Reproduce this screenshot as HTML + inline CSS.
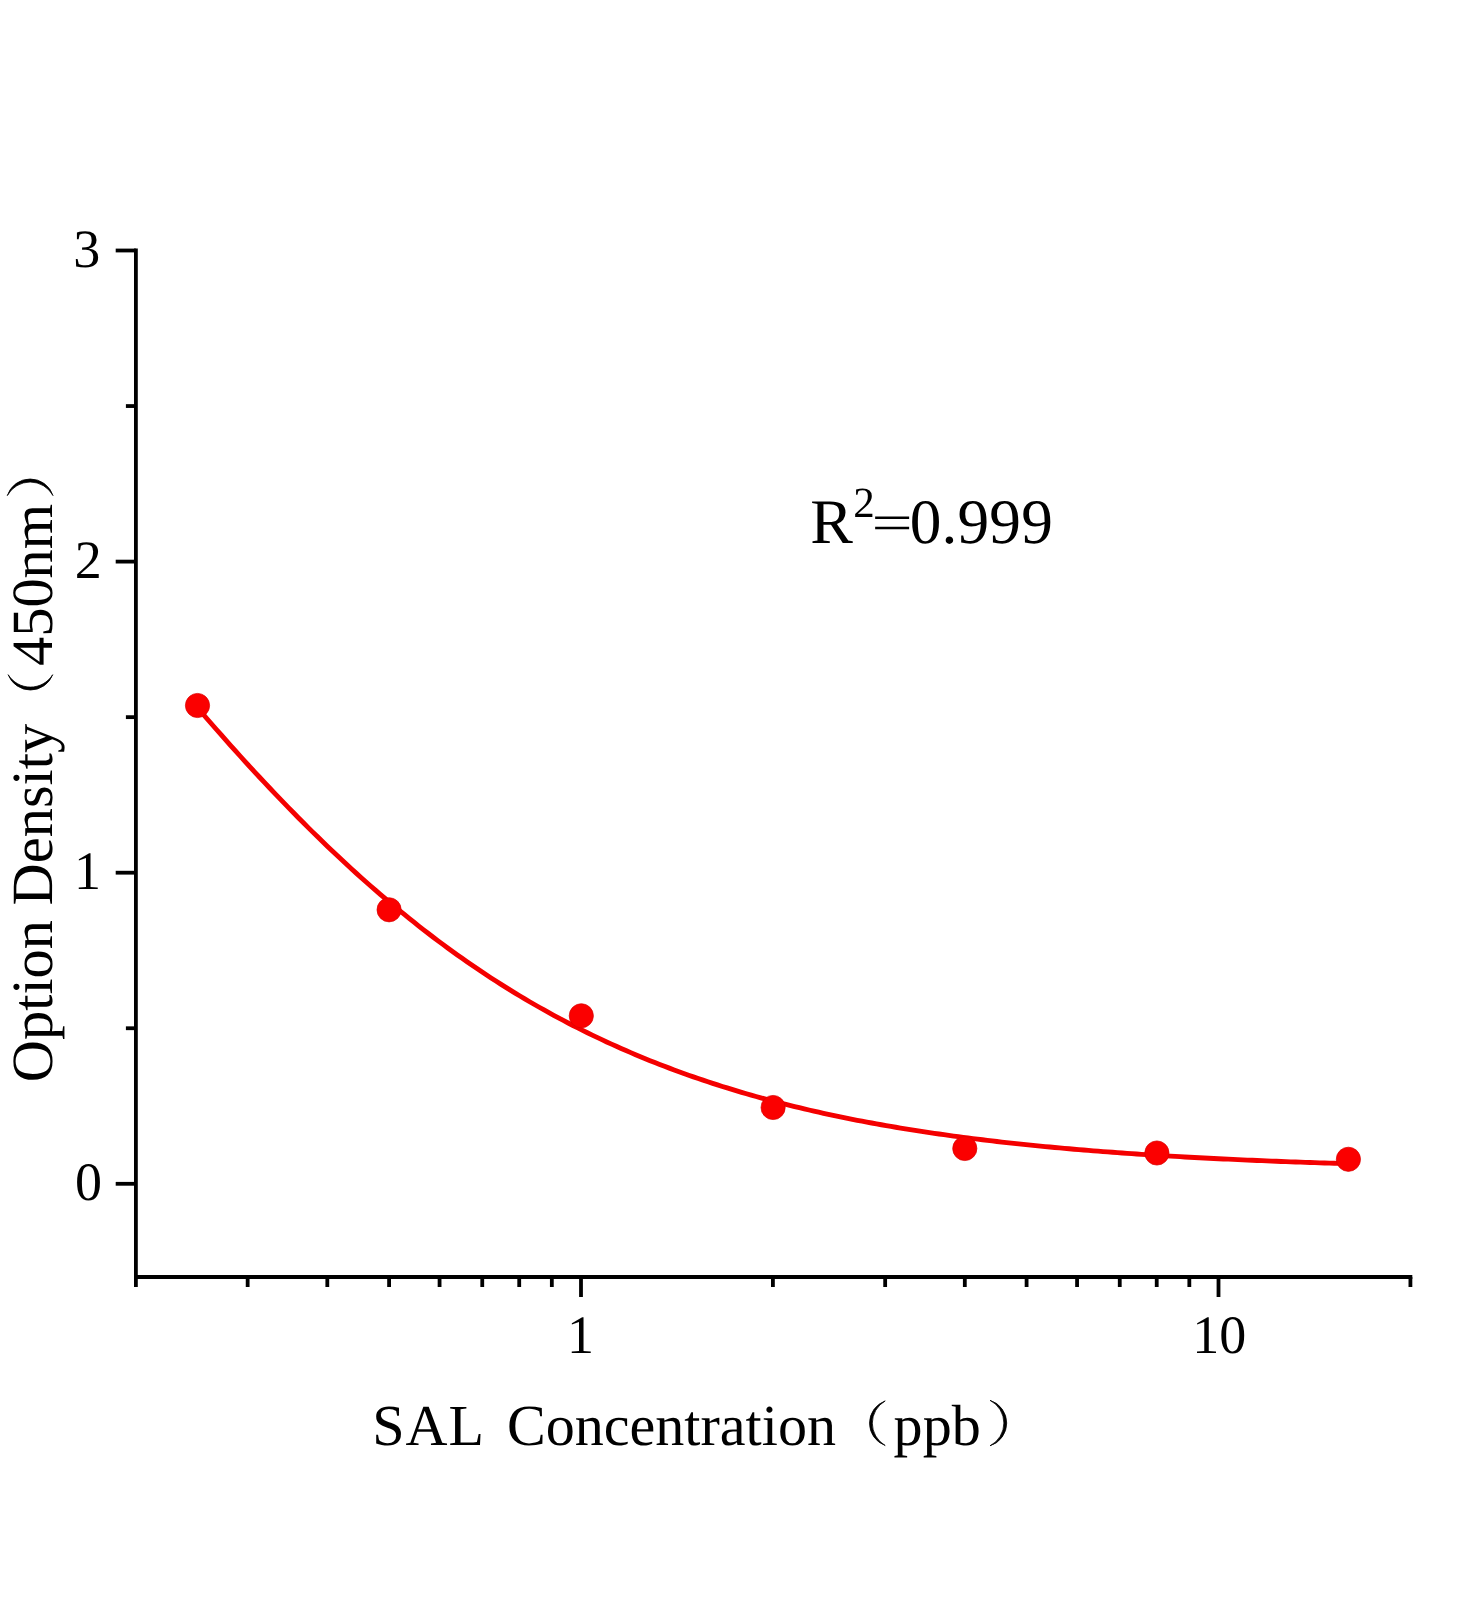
<!DOCTYPE html>
<html><head><meta charset="utf-8"><title>SAL standard curve</title>
<style>
html,body{margin:0;padding:0;background:#fff;}
body{width:1472px;height:1600px;overflow:hidden;}
svg{display:block;will-change:transform;}
svg text{font-family:"Liberation Serif",serif;fill:#000;font-kerning:none;text-rendering:geometricPrecision;}
</style></head><body>
<svg width="1472" height="1600" viewBox="0 0 1472 1600" role="img" aria-label="Standard curve: Option Density (450nm) versus SAL Concentration (ppb), R squared = 0.999">
<rect width="1472" height="1600" fill="#ffffff"/>
<path d="M135.9,248.60 V1287.00" stroke="#000" stroke-width="3.8" fill="none"/>
<path d="M134.00,1277.0 H1412.31" stroke="#000" stroke-width="3.8" fill="none"/>
<path d="M115.70,1183.80 H135.9" stroke="#000" stroke-width="3.8"/>
<path d="M115.70,872.70 H135.9" stroke="#000" stroke-width="3.8"/>
<path d="M115.70,561.60 H135.9" stroke="#000" stroke-width="3.8"/>
<path d="M115.70,250.50 H135.9" stroke="#000" stroke-width="3.8"/>
<path d="M125.90,1028.25 H135.9" stroke="#000" stroke-width="3.8"/>
<path d="M125.90,717.15 H135.9" stroke="#000" stroke-width="3.8"/>
<path d="M125.90,406.05 H135.9" stroke="#000" stroke-width="3.8"/>
<path d="M581.00,1277.0 V1297.00" stroke="#000" stroke-width="3.8"/>
<path d="M1218.50,1277.0 V1297.00" stroke="#000" stroke-width="3.8"/>
<path d="M247.66,1277.0 V1287.00" stroke="#000" stroke-width="3.8"/>
<path d="M327.31,1277.0 V1287.00" stroke="#000" stroke-width="3.8"/>
<path d="M389.09,1277.0 V1287.00" stroke="#000" stroke-width="3.8"/>
<path d="M439.57,1277.0 V1287.00" stroke="#000" stroke-width="3.8"/>
<path d="M482.25,1277.0 V1287.00" stroke="#000" stroke-width="3.8"/>
<path d="M519.22,1277.0 V1287.00" stroke="#000" stroke-width="3.8"/>
<path d="M551.83,1277.0 V1287.00" stroke="#000" stroke-width="3.8"/>
<path d="M772.91,1277.0 V1287.00" stroke="#000" stroke-width="3.8"/>
<path d="M885.16,1277.0 V1287.00" stroke="#000" stroke-width="3.8"/>
<path d="M964.81,1277.0 V1287.00" stroke="#000" stroke-width="3.8"/>
<path d="M1026.59,1277.0 V1287.00" stroke="#000" stroke-width="3.8"/>
<path d="M1077.07,1277.0 V1287.00" stroke="#000" stroke-width="3.8"/>
<path d="M1119.75,1277.0 V1287.00" stroke="#000" stroke-width="3.8"/>
<path d="M1156.72,1277.0 V1287.00" stroke="#000" stroke-width="3.8"/>
<path d="M1189.33,1277.0 V1287.00" stroke="#000" stroke-width="3.8"/>
<path d="M1410.41,1277.0 V1287.00" stroke="#000" stroke-width="3.8"/>
<path d="M197.19,707.33 L202.00,712.91 L206.82,718.47 L211.64,723.99 L216.46,729.49 L221.28,734.96 L226.09,740.39 L230.91,745.79 L235.73,751.16 L240.55,756.50 L245.36,761.80 L250.18,767.07 L255.00,772.30 L259.82,777.50 L264.64,782.65 L269.45,787.78 L274.27,792.86 L279.09,797.91 L283.91,802.91 L288.72,807.88 L293.54,812.81 L298.36,817.70 L303.18,822.54 L307.99,827.35 L312.81,832.11 L317.63,836.84 L322.45,841.52 L327.27,846.16 L332.08,850.76 L336.90,855.31 L341.72,859.82 L346.54,864.29 L351.35,868.71 L356.17,873.10 L360.99,877.43 L365.81,881.73 L370.63,885.98 L375.44,890.18 L380.26,894.34 L385.08,898.46 L389.90,902.53 L394.71,906.56 L399.53,910.55 L404.35,914.49 L409.17,918.38 L413.99,922.23 L418.80,926.04 L423.62,929.80 L428.44,933.52 L433.26,937.20 L438.07,940.83 L442.89,944.41 L447.71,947.96 L452.53,951.46 L457.34,954.92 L462.16,958.33 L466.98,961.70 L471.80,965.03 L476.62,968.31 L481.43,971.56 L486.25,974.76 L491.07,977.92 L495.89,981.04 L500.70,984.11 L505.52,987.15 L510.34,990.14 L515.16,993.10 L519.98,996.01 L524.79,998.88 L529.61,1001.72 L534.43,1004.51 L539.25,1007.27 L544.06,1009.98 L548.88,1012.66 L553.70,1015.30 L558.52,1017.90 L563.33,1020.47 L568.15,1023.00 L572.97,1025.49 L577.79,1027.94 L582.61,1030.36 L587.42,1032.74 L592.24,1035.09 L597.06,1037.40 L601.88,1039.68 L606.69,1041.93 L611.51,1044.14 L616.33,1046.31 L621.15,1048.45 L625.97,1050.56 L630.78,1052.64 L635.60,1054.69 L640.42,1056.70 L645.24,1058.68 L650.05,1060.63 L654.87,1062.56 L659.69,1064.45 L664.51,1066.31 L669.33,1068.14 L674.14,1069.94 L678.96,1071.71 L683.78,1073.46 L688.60,1075.17 L693.41,1076.86 L698.23,1078.53 L703.05,1080.16 L707.87,1081.77 L712.68,1083.35 L717.50,1084.91 L722.32,1086.44 L727.14,1087.94 L731.96,1089.42 L736.77,1090.88 L741.59,1092.31 L746.41,1093.72 L751.23,1095.10 L756.04,1096.46 L760.86,1097.80 L765.68,1099.12 L770.50,1100.41 L775.32,1101.68 L780.13,1102.93 L784.95,1104.16 L789.77,1105.37 L794.59,1106.56 L799.40,1107.73 L804.22,1108.87 L809.04,1110.00 L813.86,1111.11 L818.68,1112.20 L823.49,1113.27 L828.31,1114.32 L833.13,1115.35 L837.95,1116.37 L842.76,1117.37 L847.58,1118.35 L852.40,1119.31 L857.22,1120.26 L862.03,1121.19 L866.85,1122.10 L871.67,1123.00 L876.49,1123.88 L881.31,1124.75 L886.12,1125.60 L890.94,1126.44 L895.76,1127.26 L900.58,1128.06 L905.39,1128.86 L910.21,1129.64 L915.03,1130.40 L919.85,1131.15 L924.67,1131.89 L929.48,1132.61 L934.30,1133.32 L939.12,1134.02 L943.94,1134.71 L948.75,1135.38 L953.57,1136.05 L958.39,1136.70 L963.21,1137.33 L968.03,1137.96 L972.84,1138.58 L977.66,1139.18 L982.48,1139.77 L987.30,1140.36 L992.11,1140.93 L996.93,1141.49 L1001.75,1142.04 L1006.57,1142.58 L1011.38,1143.12 L1016.20,1143.64 L1021.02,1144.15 L1025.84,1144.65 L1030.66,1145.15 L1035.47,1145.63 L1040.29,1146.11 L1045.11,1146.58 L1049.93,1147.03 L1054.74,1147.49 L1059.56,1147.93 L1064.38,1148.36 L1069.20,1148.79 L1074.02,1149.21 L1078.83,1149.62 L1083.65,1150.02 L1088.47,1150.42 L1093.29,1150.80 L1098.10,1151.19 L1102.92,1151.56 L1107.74,1151.93 L1112.56,1152.29 L1117.37,1152.64 L1122.19,1152.99 L1127.01,1153.33 L1131.83,1153.66 L1136.65,1153.99 L1141.46,1154.32 L1146.28,1154.63 L1151.10,1154.94 L1155.92,1155.25 L1160.73,1155.55 L1165.55,1155.84 L1170.37,1156.13 L1175.19,1156.41 L1180.01,1156.69 L1184.82,1156.96 L1189.64,1157.23 L1194.46,1157.49 L1199.28,1157.75 L1204.09,1158.00 L1208.91,1158.25 L1213.73,1158.49 L1218.55,1158.73 L1223.37,1158.96 L1228.18,1159.19 L1233.00,1159.42 L1237.82,1159.64 L1242.64,1159.86 L1247.45,1160.07 L1252.27,1160.28 L1257.09,1160.49 L1261.91,1160.69 L1266.72,1160.89 L1271.54,1161.08 L1276.36,1161.27 L1281.18,1161.46 L1286.00,1161.64 L1290.81,1161.82 L1295.63,1162.00 L1300.45,1162.17 L1305.27,1162.34 L1310.08,1162.51 L1314.90,1162.67 L1319.72,1162.83 L1324.54,1162.99 L1329.36,1163.14 L1334.17,1163.29 L1338.99,1163.44 L1343.81,1163.59 L1348.63,1163.73" stroke="#f40000" stroke-width="4.85" fill="none" stroke-linejoin="round"/>
<circle cx="197.5" cy="705.5" r="12.1" fill="#fb0000" stroke="#d80000" stroke-width="0.7"/>
<circle cx="389.1" cy="909.8" r="12.1" fill="#fb0000" stroke="#d80000" stroke-width="0.7"/>
<circle cx="581.3" cy="1015.8" r="12.1" fill="#fb0000" stroke="#d80000" stroke-width="0.7"/>
<circle cx="773.1" cy="1107.5" r="12.1" fill="#fb0000" stroke="#d80000" stroke-width="0.7"/>
<circle cx="964.8" cy="1148.5" r="12.1" fill="#fb0000" stroke="#d80000" stroke-width="0.7"/>
<circle cx="1156.9" cy="1153.0" r="12.1" fill="#fb0000" stroke="#d80000" stroke-width="0.7"/>
<circle cx="1348.4" cy="1159.3" r="12.1" fill="#fb0000" stroke="#d80000" stroke-width="0.7"/>
<text x="102.1" y="1199.90" font-size="54" text-anchor="end">0</text>
<text x="101.1" y="888.80" font-size="54" text-anchor="end">1</text>
<text x="101.7" y="577.70" font-size="54" text-anchor="end">2</text>
<text x="100.3" y="266.60" font-size="54" text-anchor="end">3</text>
<text x="580.6" y="1352.6" font-size="54" text-anchor="middle">1</text>
<text x="1219.3" y="1352.6" font-size="54" text-anchor="middle">10</text>
<text x="810.3" y="543.2" font-size="63.5" textLength="42.6" lengthAdjust="spacingAndGlyphs">R</text>
<text x="853.3" y="517.2" font-size="43">2</text>
<text transform="translate(871.47,539.65) scale(1.169,0.8256)" x="0" y="0" font-size="62.5">=</text>
<text x="909.7" y="543.4" font-size="63.3" letter-spacing="0.18">0.999</text>
<text x="372.2" y="1444.8" font-size="58.1" letter-spacing="1.0">SAL</text>
<text x="506.9" y="1444.8" font-size="58.1">Concentration</text>
<text x="893.6" y="1444.8" font-size="58.1">ppb</text>
<path d="M885.2,1400.9 A23.69,23.69 0 0 0 885.2,1445.5 A25.72,25.72 0 0 1 885.2,1400.9 Z" fill="#000" stroke="#000" stroke-width="0.8" stroke-linejoin="round"/>
<path d="M990.0,1400.3 A23.85,23.85 0 0 1 990.0,1445.8 A25.57,25.57 0 0 0 990.0,1400.3 Z" fill="#000" stroke="#000" stroke-width="0.8" stroke-linejoin="round"/>
<g transform="translate(51.9,1082.2) rotate(-90)"><text x="0" y="0" font-size="58.4">Option Density</text><text x="416.2" y="0" font-size="58.4">450nm</text></g>
<path d="M7.3,495.6 A24.03,24.03 0 0 1 53.0,495.6 A26.00,26.00 0 0 0 7.3,495.6 Z" fill="#000" stroke="#000" stroke-width="0.8" stroke-linejoin="round"/>
<path d="M8.15,674.7 A23.86,23.86 0 0 0 52.7,674.7 A26.21,26.21 0 0 1 8.15,674.7 Z" fill="#000" stroke="#000" stroke-width="0.8" stroke-linejoin="round"/>
</svg>
</body></html>
